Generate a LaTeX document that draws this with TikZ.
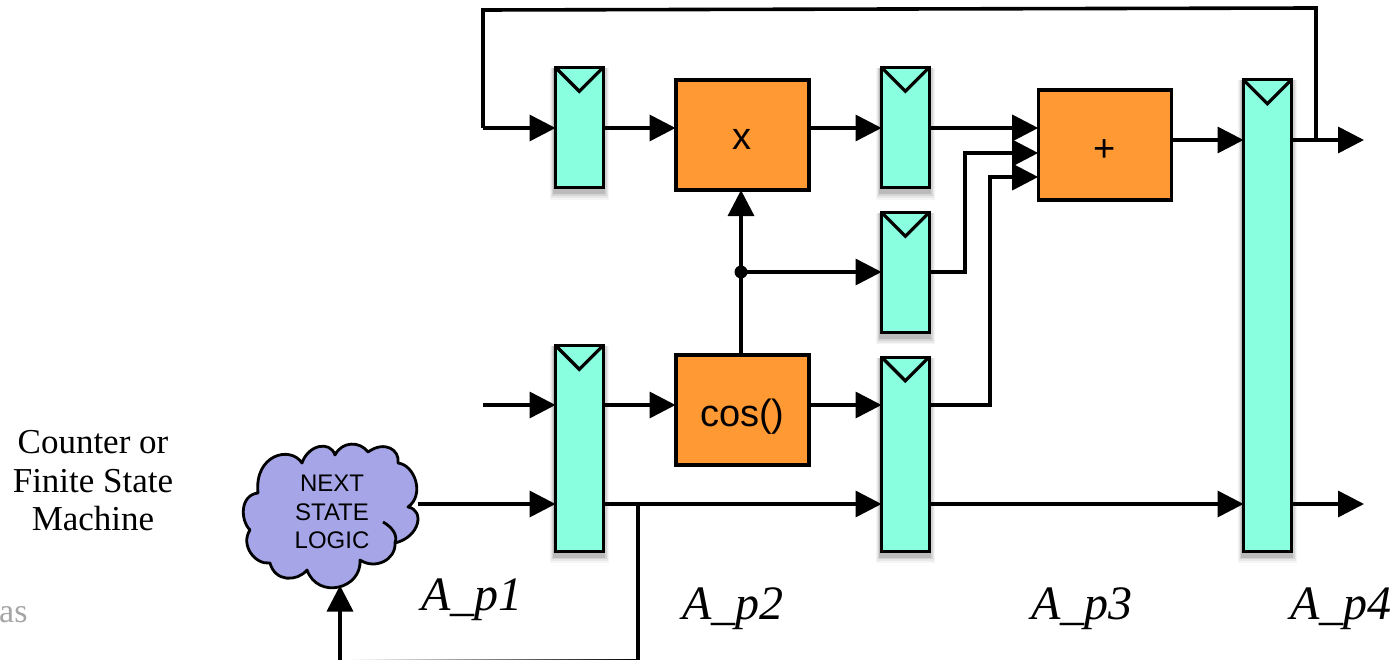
\documentclass[tikz,border=0pt]{standalone}
\usepackage{fontspec}
\setmainfont{Liberation Serif}
\newfontfamily\sansf{Liberation Sans}
\usetikzlibrary{arrows.meta}
\definecolor{regfill}{RGB}{138,255,224}
\definecolor{opfill}{RGB}{255,153,51}
\definecolor{cloudfill}{RGB}{165,165,232}
\tikzset{
  x=1pt,y=-1pt,
  wire/.style={line width=3.6pt,line join=miter},
  arr/.style={wire,shorten >=-1.5pt,-{Triangle[length=26pt,width=26pt]}},
  opbox/.style={draw=black,line width=3.6pt,fill=opfill,anchor=north west,inner sep=0pt,font=\sansf\fontsize{38}{40}\selectfont,minimum width=133pt,minimum height=110pt},
  regbox/.style={draw=black,line width=3pt,fill=regfill,anchor=north west,inner sep=0pt,minimum width=47.7pt},
  clockv/.style={line width=3.2pt,line join=miter},
  lbl/.style={font=\itshape\fontsize{48}{52}\selectfont,anchor=base,inner sep=0pt},
  side/.style={font=\fontsize{35}{38.5}\selectfont,align=center,inner sep=0pt}
}
\newcommand{\reg}[4]{% name x y h
  \foreach \g/\o in {7/0.04,5/0.05,3/0.08,1/0.12}{
    \fill[black,opacity=\o] (#2-\g*0.6,#3+2) rectangle (#2+50.7+\g*0.6,#3+#4+4+\g*0.9);
  }
  \node[regbox,minimum height=#4 pt - 3pt] (#1) at (#2,#3) {};
  \draw[clockv] (#1.north west) ++(1.5,1.5) -- ++(23.8,23.8) coordinate (#1v) -- ++(23.8,-23.8);
}
\begin{document}
\begin{tikzpicture}
\useasboundingbox (0,0) rectangle (1396,660);
\fill[white] (0,0) rectangle (1396,660);

% registers
\reg{ra}{554}{66}{123.3}
\reg{rb}{880}{66}{123.3}
\reg{rc}{880}{211}{123}
\reg{rd}{554}{344}{208.7}
\reg{re}{880}{355.5}{197.2}
\reg{rf}{1242}{78.5}{474.2}

% operators
\node[opbox] (mul) at (674,78) {\raisebox{-14.5pt}[0pt][0pt]{x}};
\node[opbox] (cosb) at (674,353.3) {\raisebox{-16.5pt}[0pt][0pt]{cos()}};
\node[opbox] (add) at (1036.7,88.3) {\raisebox{-16pt}[0pt][0pt]{+}};

% cloud
\filldraw[fill=cloudfill,draw=black,line width=2.8pt,line join=round]
  (258,493) .. controls (254,455) and (290,445) .. (302,463)
  .. controls (308,445) and (330,440) .. (335,455)
  .. controls (342,441) and (360,441) .. (368,452)
  .. controls (385,440) and (400,450) .. (398,463)
  .. controls (415,465) and (425,495) .. (408,507)
  .. controls (425,510) and (420,537) .. (395,543)
  .. controls (396,560) and (375,570) .. (360,560)
  .. controls (362,589) and (318,600) .. (307,570)
  .. controls (297,582) and (275,582) .. (270,563)
  .. controls (255,565) and (240,545) .. (250,530)
  .. controls (240,520) and (240,495) .. (258,493) -- cycle;
\draw[black,line width=2.8pt] (395,543) .. controls (398,535) and (392,527) .. (383,522);
\node[font=\sansf\fontsize{24}{28.5}\selectfont,align=center,inner sep=0pt] (nsl) at (332,512) {NEXT\\STATE\\LOGIC};

% free ends
\coordinate (ina) at (483,128);
\coordinate (ind) at (483,405);
\coordinate (cloudE) at (418,504);
\coordinate (cloudS) at (340,587);
\coordinate (outa) at (1362.5,140);
\coordinate (outb) at (1362.5,504);
\coordinate (branch) at (741,272);
\coordinate (tapf) at (1316,140);
\coordinate (tapd) at (638,504);
\coordinate (botr) at (638,662);
\coordinate (botl) at (340,662);

% connectors
\draw[arr] (ina) -- (ra.west |- ina);
\draw[wire] (ina) -- (483,10) -- (1316,8) -- (tapf);
\draw[arr] (ra.east |- ina) -- (mul.west |- ina);
\draw[arr] (mul.east |- ina) -- (rb.west |- ina);
\draw[arr] (rb.east |- ina) -- (add.west |- ina);
\draw[arr] (rc.east |- 0,272) -- (965,272) -- (965,153) -- (add.west |- 0,153);
\draw[arr] (re.east |- 0,405) -- (990,405) -- (990,177) -- (add.west |- 0,177);
\draw[arr] (add.east |- 0,140) -- (rf.west |- 0,140);
\draw[arr] (rf.east |- outa) -- (outa);

\draw[arr] (ind) -- (rd.west |- ind);
\draw[arr] (rd.east |- ind) -- (cosb.west |- ind);
\draw[arr] (cosb.east |- ind) -- (re.west |- ind);
\draw[arr] (cosb.north -| branch) -- (mul.south -| branch);
\draw[arr] (branch) -- (rc.west |- branch);
\fill (branch) circle (6.5pt);

\draw[arr] (cloudE) -- (rd.west |- cloudE);
\draw[arr] (rd.east |- cloudE) -- (re.west |- cloudE);
\draw[arr] (re.east |- cloudE) -- (rf.west |- cloudE);
\draw[arr] (rf.east |- outb) -- (outb);
\draw[wire] (tapd) -- (botr);
\draw[arr] (botl) -- (cloudS);
\shade[left color=white,right color=black] (350,659) rectangle (638,660);

% labels
\node[lbl] (p1) at (472,610) {A\_p1};
\node[lbl] (p2) at (733,619) {A\_p2};
\node[lbl] (p3) at (1082,619) {A\_p3};
\node[lbl] (p4) at (1341,619) {A\_p4};
\node[side] (fsm) at (93,481) {Counter or\\Finite State\\Machine};
\node[font=\fontsize{34}{36}\selectfont,text=black!35,anchor=base west,inner sep=0pt] (asx) at (-1,622) {as};
\end{tikzpicture}
\end{document}
